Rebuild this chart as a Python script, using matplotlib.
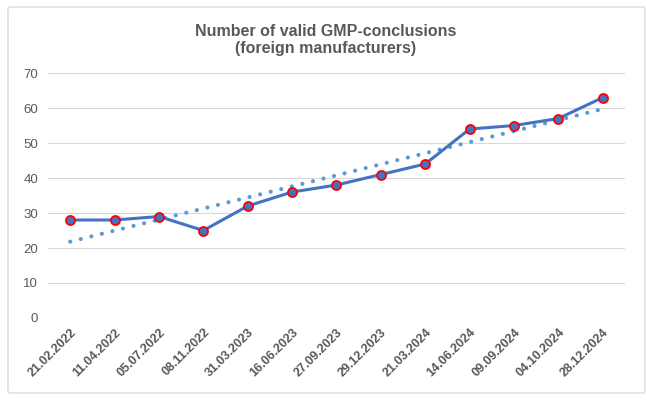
import numpy as np
import matplotlib
matplotlib.use("Agg")
from matplotlib import pyplot as plt
from matplotlib.patches import FancyBboxPatch

dates = ['21.02.2022', '11.04.2022', '05.07.2022', '08.11.2022', '31.03.2023',
         '16.06.2023', '27.09.2023', '29.12.2023', '21.03.2024', '14.06.2024',
         '09.09.2024', '04.10.2024', '28.12.2024']
counts = [28, 28, 29, 25, 32, 36, 38, 41, 44, 54, 55, 57, 63]

plt.rcParams['font.family'] = ['Liberation Sans', 'DejaVu Sans']
grey = '#595959'

fig = plt.figure(figsize=(6.53, 4.04), dpi=100)
ax = fig.add_axes([0.0735, 0.2129, 0.8835, 0.6063])

x = np.arange(len(dates))
# linear trend line
k, b = np.polyfit(x, counts, 1)
ax.plot(x, k * x + b, color='#5B9BD5', linewidth=3, linestyle=(0, (0.01, 2.6)),
        dash_capstyle='round', zorder=2)
ax.plot(x, counts, color='#4472C4', linewidth=2.2, marker='o', markersize=6.5,
        markerfacecolor='#4472C4', markeredgecolor='#FF0000', markeredgewidth=1.3,
        zorder=3)

ax.set_xlim(-0.5, len(dates) - 0.5)
ax.set_ylim(0, 70)
ax.set_yticks(range(0, 71, 10))
ax.yaxis.grid(True, color='#D9D9D9', linewidth=0.8)
ax.set_axisbelow(True)
for s in ax.spines.values():
    s.set_visible(False)
ax.tick_params(length=0)
ax.tick_params(axis='y', labelsize=9.5, labelcolor=grey, pad=7)
ax.set_xticks(x)
ax.set_xticklabels(dates, rotation=45, ha='right', rotation_mode='anchor',
                   fontsize=9, fontweight='bold', color=grey)
ax.tick_params(axis='x', pad=6)

fig.text(0.498, 0.90, 'Number of valid GMP-conclusions\n(foreign manufacturers)',
         ha='center', va='center', fontsize=11.5, fontweight='bold', color=grey,
         linespacing=1.15)

border = FancyBboxPatch((8 / 653, 11 / 404), 637 / 653, 386 / 404,
                        boxstyle='round,pad=0,rounding_size=0.005',
                        transform=fig.transFigure, fill=False,
                        edgecolor='#D9D9D9', linewidth=1.0)
fig.patches.append(border)

fig.savefig('out.png', dpi=100)
